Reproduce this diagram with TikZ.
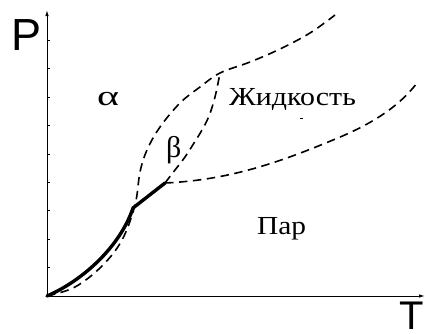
\documentclass[tikz,border=0pt]{standalone}
\usepackage{fontspec}
\usetikzlibrary{arrows.meta}
\setmainfont{Liberation Serif}
\newfontfamily\axfont{Liberation Sans}
\begin{document}
\begin{tikzpicture}[x=1pt,y=-1pt,
  axisline/.style={line width=1pt,-{Latex[length=6pt,width=3.5pt]}},
  tickline/.style={line width=0.7pt},
  dashline/.style={line width=1.6pt,dash pattern=on 8.5pt off 5.5pt},
  solidline/.style={line width=3.4pt,line cap=round,line join=round},
  axlabel/.style={inner sep=0pt,font=\axfont\fontsize{45}{45}\selectfont},
  greek/.style={inner sep=0pt,font=\fontsize{30}{30}\selectfont},
  phase/.style={inner sep=0pt,font=\fontsize{26}{26}\selectfont}]
\useasboundingbox (0,0) rectangle (425,333);
\coordinate (O) at (47,296);
\coordinate (Ytop) at (47,10);
\coordinate (Xend) at (425,296);
\coordinate (K) at (133,208);
\coordinate (B) at (165,183);
\coordinate (A) at (220,73);
\coordinate (V) at (333,140);
\coordinate (Vend) at (417,83);
\draw[axisline] (O) -- (Ytop);
\draw[axisline] (O) -- (Xend);
\foreach \yy in {267,239,210,182,154,125,97,68,40}
  \draw[tickline] (47,\yy) -- (49.5,\yy);
% alpha boundary (dashed, from origin)
\draw[dashline] plot[smooth,tension=0.6] coordinates {(47,296) (75,287) (102,266) (122,240) (135,205) (140,172) (147,150) (160,127) (180,103) (200,87) (A) (250,62) (280,49) (310,33) (335,15)};
% beta right boundary
\draw[dashline] plot[smooth,tension=0.6] coordinates {(B) (175,170) (185,157) (194,143) (202,130) (209,116) (215,97) (A)};
% vapour boundary
\draw[dashline] (B) .. controls (230,180) and (280,162) .. (V) .. controls (375,123) and (400,105) .. (Vend);
% solid sublimation curve
\draw[solidline] (O) .. controls (82,281) and (120,247) .. (K) -- (B);
\draw[line width=0.9pt] (300,118) -- (303,118);
\node[axlabel,anchor=base west] (P) at (11,50) {P};
\node[axlabel,font=\axfont\fontsize{40}{40}\selectfont,anchor=base west] (T) at (399,329) {T};
\node[greek,font=\fontsize{28}{28}\selectfont,anchor=base west] (al) at (97,105) {\scalebox{1.5}[1]{α}};
\node[greek,anchor=base west] (be) at (166,157) {β};
\node[phase,anchor=base west] (liq) at (229,105) {\scalebox{1.15}[1]{Жидкость}};
\node[phase,anchor=base west] (vap) at (257,234) {\scalebox{1.13}[1]{Пар}};
\end{tikzpicture}
\end{document}
